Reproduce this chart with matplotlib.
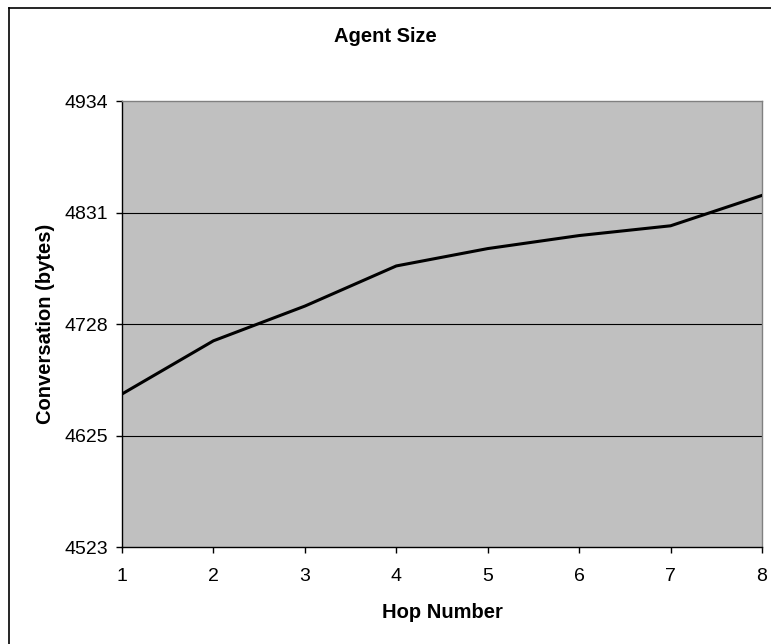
import numpy as np
import matplotlib.pyplot as plt
from matplotlib.lines import Line2D

# data
hops = [1, 2, 3, 4, 5, 6, 7, 8]
size_bytes = [4664, 4713, 4745, 4782, 4798, 4810, 4819, 4847]
y_min, y_max = 4523, 4934
y_tick_labels = ['4523', '4625', '4728', '4831', '4934']

plt.rcParams['font.family'] = ['Liberation Sans', 'DejaVu Sans']

W, H = 771, 644
fig = plt.figure(figsize=(W / 100, H / 100), dpi=100)
ax = fig.add_axes([122 / W, 1 - 547 / H, 640 / W, 446 / H])

# gray plot area like the old excel charts
ax.set_facecolor('#C0C0C0')
y_ticks = np.linspace(y_min, y_max, len(y_tick_labels))
for yv in y_ticks[1:-1]:
    ax.axhline(yv, color='black', lw=0.8, zorder=1)

ax.plot(hops, size_bytes, color='black', lw=2.2, zorder=3)

ax.set_xlim(hops[0], hops[-1])
ax.set_ylim(y_min, y_max)
ax.set_xticks(hops)
ax.set_yticks(y_ticks)
ax.set_yticklabels(y_tick_labels)
ax.tick_params(axis='both', direction='out', length=4.5, width=1, labelsize=14, colors='black')
ax.tick_params(axis='x', pad=10.5)
ax.tick_params(axis='y', pad=5.5)

for side in ['top', 'right']:
    ax.spines[side].set_color('#808080')
    ax.spines[side].set_linewidth(1)
for side in ['left', 'bottom']:
    ax.spines[side].set_color('black')
    ax.spines[side].set_linewidth(1)

ax.set_xlabel('Hop Number', fontsize=14.5, fontweight='bold', labelpad=13)
ax.set_ylabel('Conversation (bytes)', fontsize=14.5, fontweight='bold', labelpad=7)
fig.text(0.5, 1 - 36 / H, 'Agent Size', ha='center', va='center', fontsize=14.5, fontweight='bold')

# outer chart border, only top and left edges are inside the image
fig.add_artist(Line2D([8.5 / W, 1], [1 - 7.5 / H, 1 - 7.5 / H], transform=fig.transFigure, color='black', lw=1.2))
fig.add_artist(Line2D([8.5 / W, 8.5 / W], [0, 1 - 7.5 / H], transform=fig.transFigure, color='black', lw=1.2))

fig.savefig('out.png', dpi=100)
